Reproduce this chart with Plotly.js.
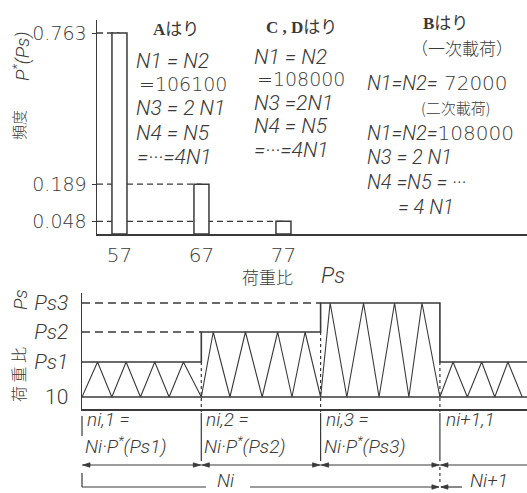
<!DOCTYPE html>
<html><head><meta charset="utf-8">
<script src="https://cdn.plot.ly/plotly-3.0.1.min.js"></script>
<style>html,body{margin:0;padding:0;background:#fff;}#chart{width:527px;height:493px;}</style>
</head><body><div id="chart"></div>
<script>
// ---------- data (top: frequency of load ratio) ----------
const loadRatios = [57, 67, 77];
const frequencies = [0.763, 0.189, 0.048];
const loadRatioLabels = ['57', '67', '77'];
const freqLabels = ['0.763', '0.189', '0.048'];

// ---------- data (bottom: schematic load history) ----------
const levelLabels = ['10', '<i>Ps1</i>', '<i>Ps2</i>', '<i>Ps3</i>'];
const levelPos = [0, 3.5, 6.5, 9.4];
const blockStart = [0, 1, 2, 3];
const blockLevelIdx = [1, 2, 3, 1];
const peakX = [0.13, 0.37, 0.61, 0.85, 1.10, 1.37, 1.64, 1.87, 2.08, 2.36, 2.62, 2.85, 3.11, 3.35, 3.57];
const valleyX = [0, 0.25, 0.49, 0.73, 1.0, 1.24, 1.51, 1.76, 2.0, 2.22, 2.49, 2.74, 3.0, 3.23, 3.46, 3.69];

// ---------- layout helpers ----------
const W = 527, H = 493;
const ink = '#3a3a3a';
const px = v => v / W;
const py = v => 1 - v / H;
const LIGHT = 'DejaVu Sans, Noto Sans CJK JP';
const ITAL = 'Roboto, DejaVu Sans, Noto Sans CJK JP';

const x1Range = [54.26, 106.7];
const y1Range = [0, 0.8124];
const x2Range = [0, 3.73];
const y2Range = [-1.2, 10.4];
const x2Dom = [82 / W, 1];
const y2Dom = [py(409), py(293)];
const x2p = v => x2Dom[0] + (v - x2Range[0]) / (x2Range[1] - x2Range[0]) * (x2Dom[1] - x2Dom[0]);
const y2p = v => y2Dom[0] + (v - y2Range[0]) / (y2Range[1] - y2Range[0]) * (y2Dom[1] - y2Dom[0]);

// ---------- traces ----------
const bars = {
  type: 'bar', x: loadRatios, y: frequencies, width: 1.83,
  marker: {color: '#ffffff', line: {color: ink, width: 1.5}},
  xaxis: 'x', yaxis: 'y', hoverinfo: 'skip'
};

const envX = blockStart.concat([x2Range[1]]);
const envY = blockLevelIdx.map(i => levelPos[i]);
envY.push(envY[envY.length - 1]);
const envelope = {
  type: 'scatter', mode: 'lines', x: envX, y: envY,
  line: {color: ink, width: 1.6, shape: 'hv'}, xaxis: 'x2', yaxis: 'y2', hoverinfo: 'skip'
};

const pts = peakX.map(x => ({x: x, y: levelPos[blockLevelIdx[Math.min(3, Math.floor(x))]]}))
  .concat(valleyX.map(x => ({x: x, y: levelPos[0]})))
  .sort((a, b) => a.x - b.x);
const wave = {
  type: 'scatter', mode: 'lines', x: pts.map(p => p.x), y: pts.map(p => p.y),
  line: {color: ink, width: 1.1}, xaxis: 'x2', yaxis: 'y2', hoverinfo: 'skip'
};

// ---------- shapes ----------
const shapes = [];
loadRatios.forEach((r, i) => {
  shapes.push({type: 'line', xref: 'x', yref: 'y', x0: x1Range[0], x1: r, y0: frequencies[i], y1: frequencies[i],
    layer: 'below', line: {color: ink, width: 1.3, dash: '6px,4px'}});
});
shapes.push({type: 'line', xref: 'x2', yref: 'y2', x0: x2Range[0], x1: x2Range[1], y0: levelPos[0], y1: levelPos[0],
  line: {color: ink, width: 1.4}});
for (let b = 1; b < blockStart.length; b++) {
  const lv = blockLevelIdx[b];
  if (lv > blockLevelIdx[0] && blockLevelIdx.indexOf(lv) === b) {
    shapes.push({type: 'line', xref: 'x2', yref: 'y2', x0: x2Range[0], x1: blockStart[b], y0: levelPos[lv], y1: levelPos[lv],
      layer: 'below', line: {color: ink, width: 1.3, dash: '8px,5px'}});
  }
}
for (let b = 1; b < blockStart.length; b++) {
  const lo = Math.min(levelPos[blockLevelIdx[b - 1]], levelPos[blockLevelIdx[b]]);
  shapes.push({type: 'line', xref: 'paper', yref: 'paper', x0: x2p(blockStart[b]), x1: x2p(blockStart[b]),
    y0: y2p(lo), y1: py(412), line: {color: ink, width: 1.2, dash: 'dot'}});
}
const L = (xa, ya, xb, yb, dash) => shapes.push({type: 'line', xref: 'paper', yref: 'paper',
  x0: px(xa), y0: py(ya), x1: px(xb), y1: py(yb), line: {color: ink, width: 1.2, dash: dash || 'solid'}});
const bX = blockStart.map(b => x2p(b) * W);
L(bX[0], 416, bX[0], 436);
for (let b = 1; b < bX.length; b++) L(bX[b], 413, bX[b], 461);
L(bX[0], 465, W, 465);
L(bX[0], 473, bX[0], 487);
L(bX[0], 487, 206, 487);
L(250, 487, bX[3] - 1, 487);
L(bX[3] + 1, 487, 462, 487);
L(bX[3], 467, bX[3], 483, 'dot');
const arrow = (X, Y, dir) => {
  const a = 7, w = 2.2;
  shapes.push({type: 'path', xref: 'paper', yref: 'paper',
    path: 'M' + px(X) + ',' + py(Y) + ' L' + px(X - dir * a) + ',' + py(Y - w) + ' L' + px(X - dir * a) + ',' + py(Y + w) + ' Z',
    fillcolor: ink, line: {color: ink, width: 0.8}});
};
arrow(bX[0] + 1, 465, -1);
for (let b = 1; b < bX.length; b++) { arrow(bX[b] - 1, 465, 1); arrow(bX[b] + 1, 465, -1); }
arrow(bX[3] - 1, 487, 1);
arrow(bX[3] + 1, 487, -1);

// ---------- annotations ----------
const ann = [];
const T = (text, x, y, o) => {
  o = o || {};
  ann.push({text: text, xref: 'paper', yref: 'paper', x: px(x), y: py(y), showarrow: false,
    xanchor: o.xa || 'left', yanchor: 'middle', textangle: o.rot || 0, borderpad: 0,
    font: {family: o.fam || ITAL, size: o.size || 21, color: ink, weight: o.w || 300}});
};
const J = 'Liberation Serif, Noto Sans CJK JP';
const U = {fam: LIGHT, size: 19, w: 200};
// column A
T('<b>A</b>はり', 176, 30, {xa: 'center', size: 17, fam: J, w: 400});
T('<i>N1 = N2</i>', 135, 61);
T('=106100', 138, 84, U);
T('<i>N3 = 2 N1</i>', 135, 108);
T('<i>N4 = N5</i>', 135, 133);
T('<i>=···=4N1</i>', 136, 157);
// column C, D
T('<b>C , D</b>はり', 301, 28, {xa: 'center', size: 17, fam: J, w: 400});
T('<i>N1 = N2</i>', 253, 57);
T('=108000', 256, 79, U);
T('<i>N3 =2N1</i>', 253, 103);
T('<i>N4 = N5</i>', 253, 126);
T('<i>=···=4N1</i>', 253, 150);
// column B
T('<b>B</b>はり', 445, 23, {xa: 'center', size: 17, fam: J, w: 400});
T('（一次載荷）', 462, 47, {xa: 'center', size: 17, fam: 'Noto Sans CJK JP', w: 300});
T('<i>N1=N2=</i><span style="font-family:DejaVu Sans;font-weight:200"> 72000</span>', 366, 83, {size: 20});
T('(二次載荷)', 455, 108, {xa: 'center', size: 15, fam: 'Noto Sans CJK JP', w: 300});
T('<i>N1=N2=</i><span style="font-family:DejaVu Sans;font-weight:200">108000</span>', 366, 133, {size: 20});
T('<i>N3 = 2 N1</i>', 366, 157, {size: 20});
T('<i>N4 =N5 = ···</i>', 366, 182, {size: 20});
T('<i>= 4 N1</i>', 397, 207, {size: 20});
// axis titles
T('荷重比', 267, 276, {xa: 'center', size: 17, fam: 'Noto Sans CJK JP', w: 300});
T('<i>Ps</i>', 333, 275, {xa: 'center', size: 22});
T('<i>P<sup>*</sup>(Ps)</i>', 22, 57, {xa: 'center', size: 19, rot: -90});
T('頻度', 18, 125, {xa: 'center', size: 15, rot: -90, fam: 'Noto Sans CJK JP', w: 300});
T('<i>Ps</i>', 20, 300, {xa: 'center', size: 19, rot: -90});
T('荷 重 比', 18, 375, {xa: 'center', size: 16, rot: -90, fam: 'Noto Sans CJK JP', w: 300});
// block annotations
const bt = [['<i>ni,1 =</i>', '<i>Ni·P<sup>*</sup>(Ps1)</i>'], ['<i>ni,2 =</i>', '<i>Ni·P<sup>*</sup>(Ps2)</i>'], ['<i>ni,3 =</i>', '<i>Ni·P<sup>*</sup>(Ps3)</i>']];
bt.forEach((t, i) => { T(t[0], bX[i] + 4, 419, {size: 19}); T(t[1], bX[i] + 2, 445, {size: 19}); });
T('<i>ni+1,1</i>', bX[3] + 5, 419, {size: 19});
T('<i>Ni</i>', 226, 480, {xa: 'center', size: 19});
T('<i>Ni+1</i>', 469, 480, {size: 19});

// ---------- layout ----------
const layout = {
  width: W, height: H, autosize: false,
  margin: {l: 0, r: 0, t: 0, b: 0, pad: 0},
  paper_bgcolor: '#ffffff', plot_bgcolor: 'rgba(0,0,0,0)',
  showlegend: false, bargap: 0,
  xaxis: {domain: [97 / W, 1], range: x1Range, anchor: 'y', showline: true, linecolor: ink, linewidth: 1.5,
    showgrid: false, zeroline: false, tickvals: loadRatios, ticktext: loadRatioLabels, ticks: '',
    tickfont: {family: LIGHT, size: 20, color: ink, weight: 200}, ticklabelstandoff: 2},
  yaxis: {domain: [py(234), py(20)], range: y1Range, anchor: 'x', showline: true, linecolor: ink, linewidth: 1.5,
    showgrid: false, zeroline: false, tickvals: frequencies, ticktext: freqLabels, ticks: 'outside', ticklen: 4,
    tickcolor: ink, tickfont: {family: LIGHT, size: 19, color: ink, weight: 200}, ticklabelstandoff: 1},
  xaxis2: {domain: x2Dom, range: x2Range, anchor: 'y2', showline: true, linecolor: ink, linewidth: 1.5,
    showgrid: false, zeroline: false, showticklabels: false, ticks: ''},
  yaxis2: {domain: y2Dom, range: y2Range, anchor: 'x2', showline: true, linecolor: ink, linewidth: 1.5,
    showgrid: false, zeroline: false, tickvals: levelPos, ticktext: levelLabels, ticks: '',
    tickfont: {family: ITAL, size: 21, color: ink, weight: 300}, ticklabelstandoff: 8},
  shapes: shapes,
  annotations: ann
};

Plotly.newPlot('chart', [bars, wave, envelope], layout, {staticPlot: true, displayModeBar: false});
</script>
</body></html>
